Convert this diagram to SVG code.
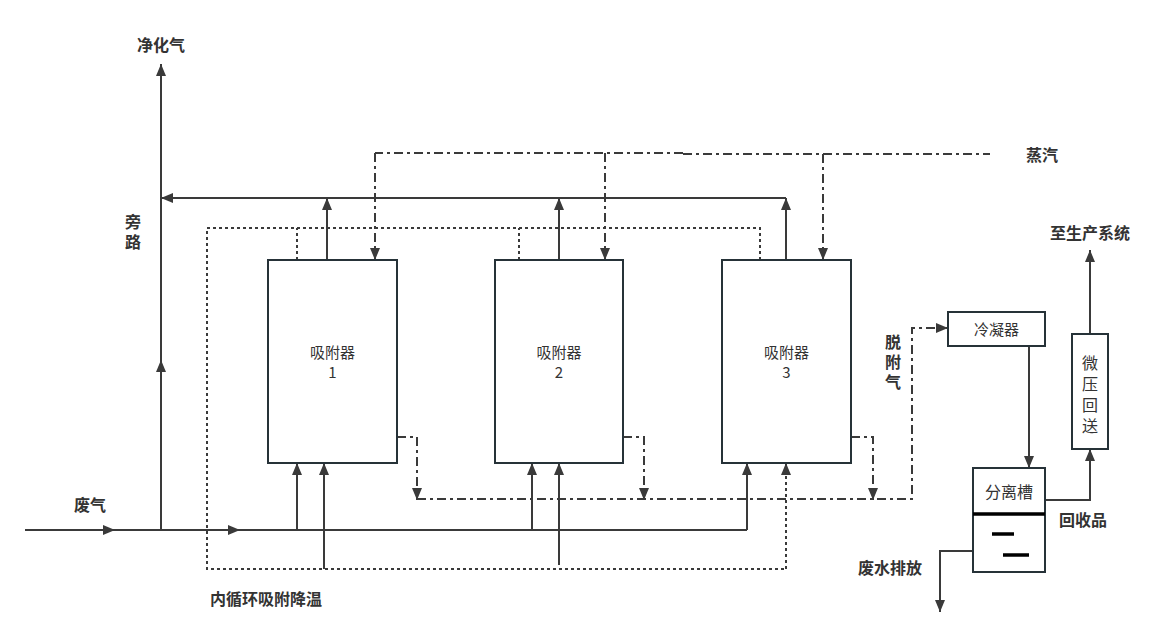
<svg xmlns="http://www.w3.org/2000/svg" width="1165" height="643" viewBox="0 0 1165 643">
<style>
.bg{fill:#ffffff}
.box{fill:#ffffff;stroke:#263238;stroke-width:2}
.ln{fill:none;stroke:#3a3a3a;stroke-width:2}
.dd{fill:none;stroke:#3a3a3a;stroke-width:2;stroke-dasharray:9 4 3 4}
.dt{fill:none;stroke:#3a3a3a;stroke-width:2;stroke-dasharray:3 3}
.ah{fill:#3a3a3a;stroke:none}
.thick{fill:none;stroke:#000000;stroke-width:3.5}
.lbl{font-family:"Noto Sans CJK SC","Liberation Sans",sans-serif;font-size:16px;font-weight:bold;fill:#333333}
.nt{font-family:"Noto Sans CJK SC","Liberation Sans",sans-serif;font-size:15px;fill:#333333}
.nt2{font-family:"Noto Sans CJK SC","Liberation Sans",sans-serif;font-size:16px;fill:#333333}
.vt{writing-mode:vertical-rl;text-orientation:upright}
</style>
<defs>
<marker id="arr" markerUnits="userSpaceOnUse" markerWidth="13" markerHeight="11" refX="12" refY="5" orient="auto" viewBox="0 0 13 10">
<path d="M0,0 L12,5 L0,10 z" fill="#3a3a3a"/>
</marker>
</defs>
<rect class="bg" x="0" y="0" width="1165" height="643"/>

<g id="connectors">
<path class="ln" d="M161,530 L161,64" marker-end="url(#arr)"/>
<polygon class="ah" points="161,360 156,372 166,372"/>
<path class="ln" d="M786,198 L161,198"/>
<polygon class="ah" points="161,198 173,193 173,203"/>
<path class="ln" d="M327,260 L327,198" marker-end="url(#arr)"/>
<path class="ln" d="M559,260 L559,198" marker-end="url(#arr)"/>
<path class="ln" d="M786,260 L786,198" marker-end="url(#arr)"/>
<path class="dd" d="M683,153 L375,153"/>
<path class="dd" d="M683,154 L990,154"/>
<path class="dd" d="M375,153 L375,260" marker-end="url(#arr)"/>
<path class="dd" d="M605,153 L605,260" marker-end="url(#arr)"/>
<path class="dd" d="M823,154 L823,260" marker-end="url(#arr)"/>
<path class="dt" d="M297,260 L297,228 M519,260 L519,228 M760,260 L760,228 L207,228 L207,569 L786,569"/>
<path class="dt" d="M786,569 L786,463" marker-end="url(#arr)"/>
<path class="ln" d="M25,530 L747,530"/>
<polygon class="ah" points="115,530 103,525 103,535"/>
<polygon class="ah" points="240,530 228,525 228,535"/>
<path class="ln" d="M297,530 L297,463" marker-end="url(#arr)"/>
<path class="ln" d="M324,569 L324,463" marker-end="url(#arr)"/>
<path class="ln" d="M532,530 L532,463" marker-end="url(#arr)"/>
<path class="ln" d="M559,565 L559,463" marker-end="url(#arr)"/>
<path class="ln" d="M747,530 L747,463" marker-end="url(#arr)"/>
<path class="dd" d="M397,437 L417,437 L417,500" marker-end="url(#arr)"/>
<path class="dd" d="M623,437 L644,437 L644,500" marker-end="url(#arr)"/>
<path class="dd" d="M851,437 L873,437 L873,500" marker-end="url(#arr)"/>
<path class="dd" d="M417,499 L912,499 L912,328 L948,328" marker-end="url(#arr)"/>
<path class="ln" d="M1029,346 L1029,468" marker-end="url(#arr)"/>
<path class="ln" d="M973,551 L940,551 L940,612" marker-end="url(#arr)"/>
<path class="ln" d="M1045,500 L1090,500 L1090,449" marker-end="url(#arr)"/>
<path class="ln" d="M1090,334 L1090,250" marker-end="url(#arr)"/>
</g>

<g id="adsorber1">
<rect class="box" x="268" y="260" width="129" height="203"/>
<text class="nt" x="332.5" y="358" text-anchor="middle">吸附器</text>
<text class="nt" x="332.5" y="378" text-anchor="middle">1</text>
</g>
<g id="adsorber2">
<rect class="box" x="495" y="260" width="128" height="203"/>
<text class="nt" x="559" y="358" text-anchor="middle">吸附器</text>
<text class="nt" x="559" y="378" text-anchor="middle">2</text>
</g>
<g id="adsorber3">
<rect class="box" x="722" y="260" width="129" height="203"/>
<text class="nt" x="786.5" y="358" text-anchor="middle">吸附器</text>
<text class="nt" x="786.5" y="378" text-anchor="middle">3</text>
</g>
<g id="condenser">
<rect class="box" x="948" y="312" width="97" height="34"/>
<text class="nt" x="996.5" y="335" text-anchor="middle">冷凝器</text>
</g>
<g id="separator">
<rect class="box" x="973" y="468" width="72" height="104"/>
<line class="thick" x1="973" y1="514" x2="1045" y2="514"/>
<line class="thick" x1="992" y1="534" x2="1014" y2="534"/>
<line class="thick" x1="1003" y1="555" x2="1029" y2="555"/>
<text class="nt2" x="1009" y="498" text-anchor="middle">分离槽</text>
</g>
<g id="return">
<rect class="box" x="1072" y="334" width="36" height="115"/>
<text class="nt2 vt" x="1090" y="355" letter-spacing="5">微压回送</text>
</g>

<g id="labels">
<text class="lbl" x="161" y="51" text-anchor="middle">净化气</text>
<text class="lbl vt" x="133" y="214" letter-spacing="4">旁路</text>
<text class="lbl" x="1042" y="161" text-anchor="middle">蒸汽</text>
<text class="lbl" x="1090" y="239" text-anchor="middle">至生产系统</text>
<text class="lbl vt" x="893" y="334" letter-spacing="4">脱附气</text>
<text class="lbl" x="90" y="511" text-anchor="middle">废气</text>
<text class="lbl" x="266" y="605" text-anchor="middle">内循环吸附降温</text>
<text class="lbl" x="890" y="574" text-anchor="middle">废水排放</text>
<text class="lbl" x="1083" y="526" text-anchor="middle">回收品</text>
</g>
</svg>
